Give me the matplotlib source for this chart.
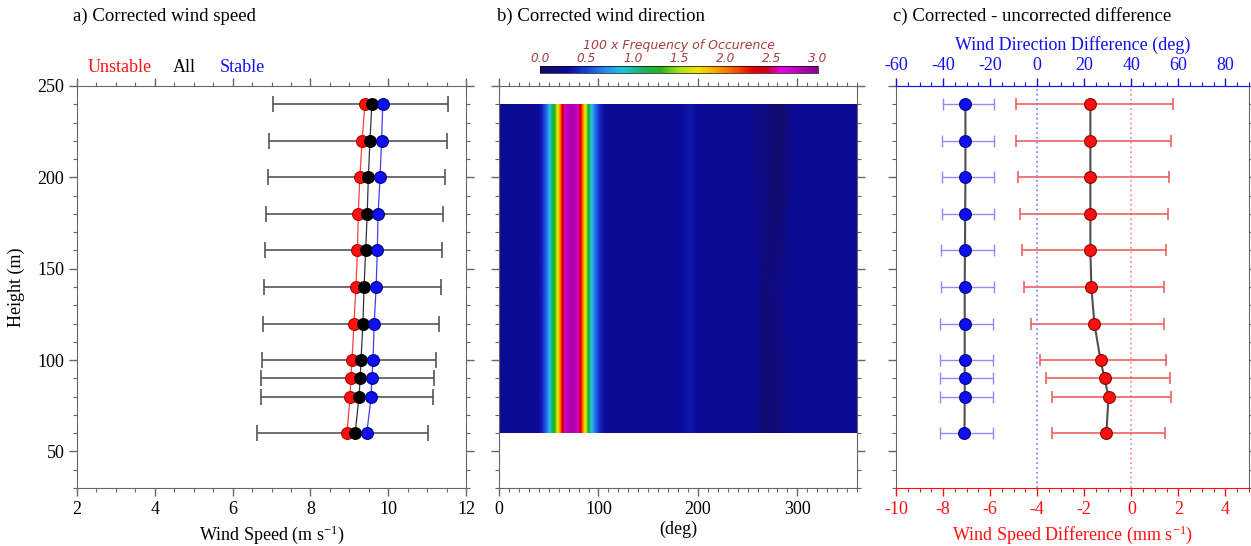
"""
Corrected wind speed / direction profiles and corrected - uncorrected differences.
"""
import numpy as np
import matplotlib
matplotlib.use('Agg')
import matplotlib.pyplot as plt
from matplotlib.colors import LinearSegmentedColormap
from matplotlib.ticker import MultipleLocator, NullFormatter

# ---- data ----
HEIGHTS = [60, 80, 90, 100, 120, 140, 160, 180, 200, 220, 240]  # m

# a) corrected wind speed (m/s)
UNSTABLE = [8.94, 9.02, 9.04, 9.07, 9.12, 9.17, 9.21, 9.23, 9.27, 9.33, 9.40]
ALL = [9.15, 9.25, 9.28, 9.30, 9.35, 9.38, 9.42, 9.46, 9.49, 9.53, 9.58]
STABLE = [9.45, 9.56, 9.58, 9.61, 9.64, 9.69, 9.72, 9.74, 9.79, 9.83, 9.86]
SPEED_LO = [6.63, 6.74, 6.74, 6.76, 6.78, 6.81, 6.83, 6.86, 6.91, 6.94, 7.04]
SPEED_HI = [11.02, 11.15, 11.18, 11.23, 11.31, 11.36, 11.38, 11.42, 11.46, 11.50, 11.54]

# b) frequency of occurrence (x100), 5 deg direction bins
DIR_EDGES = np.arange(0, 361, 5)
FREQ_PROFILE = [
    0.28, 0.28, 0.28, 0.28, 0.28, 0.28, 0.28, 0.28,   # 0-40
    0.36, 0.60, 1.00, 1.45, 2.15, 2.75, 2.85, 2.80,   # 40-80
    2.30, 1.55, 0.95, 0.60, 0.38, 0.30, 0.28, 0.28,   # 80-120
    0.28, 0.28, 0.28, 0.28, 0.28, 0.28, 0.28, 0.28,   # 120-160
    0.28, 0.28, 0.28, 0.28, 0.30, 0.33, 0.37, 0.32,   # 160-200
    0.28, 0.28, 0.28, 0.28, 0.28, 0.28, 0.28, 0.28,   # 200-240
    0.28, 0.28, 0.26, 0.24, 0.22, 0.18, 0.15, 0.12,   # 240-280
    0.12, 0.16, 0.22, 0.26, 0.28, 0.28, 0.28, 0.27,   # 280-320
    0.26, 0.27, 0.26, 0.28, 0.28, 0.28, 0.28, 0.28,   # 320-360
]
FREQ_LEVELS = [60, 80, 100, 120, 140, 160, 180, 200, 220, 240]
STREAK_BINS = slice(50, 60)  # 250-300 deg
STREAKS = [
    [0.28, 0.24, 0.16, 0.06, 0.14, 0.10, 0.14, 0.22, 0.25, 0.27],
    [0.28, 0.25, 0.18, 0.06, 0.12, 0.10, 0.16, 0.22, 0.25, 0.27],
    [0.28, 0.26, 0.18, 0.06, 0.12, 0.12, 0.16, 0.22, 0.25, 0.27],
    [0.28, 0.27, 0.18, 0.07, 0.14, 0.13, 0.18, 0.24, 0.26, 0.27],
    [0.28, 0.27, 0.18, 0.09, 0.14, 0.16, 0.18, 0.22, 0.26, 0.27],
    [0.28, 0.27, 0.20, 0.12, 0.12, 0.13, 0.14, 0.20, 0.25, 0.27],
    [0.28, 0.26, 0.22, 0.14, 0.10, 0.08, 0.10, 0.18, 0.24, 0.27],
    [0.27, 0.20, 0.22, 0.16, 0.12, 0.06, 0.07, 0.15, 0.22, 0.27],
    [0.26, 0.18, 0.20, 0.16, 0.13, 0.06, 0.05, 0.12, 0.20, 0.26],
    [0.26, 0.18, 0.20, 0.16, 0.13, 0.08, 0.05, 0.08, 0.20, 0.26],
]

# c) corrected - uncorrected differences
DSPD = [-1.06, -0.97, -1.14, -1.31, -1.57, -1.70, -1.74, -1.74, -1.74, -1.74, -1.74]
DSPD_LO = [-3.35, -3.39, -3.64, -3.90, -4.28, -4.58, -4.66, -4.75, -4.83, -4.88, -4.92]
DSPD_HI = [1.44, 1.70, 1.65, 1.48, 1.40, 1.40, 1.48, 1.57, 1.61, 1.69, 1.78]
DDIR = [-30.9, -30.8, -30.8, -30.8, -30.8, -30.8, -30.7, -30.6, -30.5, -30.5, -30.5]
DDIR_LO = [-41.3, -41.3, -41.3, -41.3, -41.2, -41.0, -40.8, -40.6, -40.4, -40.3, -40.2]
DDIR_HI = [-18.6, -18.6, -18.6, -18.6, -18.6, -18.5, -18.5, -18.4, -18.3, -18.2, -18.2]

CBAR_TICKS = [0.0, 0.5, 1.0, 1.5, 2.0, 2.5, 3.0]

# ---- style ----
plt.rcParams['font.family'] = 'serif'
plt.rcParams['font.serif'] = ['Liberation Serif', 'DejaVu Serif']
plt.rcParams['mathtext.default'] = 'regular'
plt.rcParams['axes.unicode_minus'] = False
plt.rcParams['font.size'] = 13
FRAME = '#666666'
RED = '#ff1010'
BLUE = '#1010ee'
CBAR_TEXT = '#a83c3c'

# colormap approximating NCL BlAqGrYeOrReVi
anchors = [
    (0.00, (0.08, 0.05, 0.40)),
    (0.30, (0.04, 0.04, 0.60)),
    (0.50, (0.10, 0.25, 0.85)),
    (0.75, (0.15, 0.60, 0.95)),
    (0.90, (0.10, 0.78, 0.85)),
    (1.10, (0.10, 0.70, 0.40)),
    (1.30, (0.15, 0.70, 0.10)),
    (1.50, (0.65, 0.88, 0.10)),
    (1.70, (0.95, 0.90, 0.00)),
    (1.90, (0.98, 0.65, 0.00)),
    (2.10, (0.97, 0.35, 0.00)),
    (2.30, (0.90, 0.00, 0.00)),
    (2.45, (0.80, 0.00, 0.10)),
    (2.60, (0.90, 0.00, 0.90)),
    (3.00, (0.55, 0.00, 0.55)),
]
cmap = LinearSegmentedColormap.from_list(
    'blaqgryeorrevi', [(v / 3.0, c) for v, c in anchors]
)


def style_axes(ax, xmajor, xminor, label_y=True):
    ax.set_ylim(30, 250)
    ax.yaxis.set_major_locator(MultipleLocator(50))
    ax.yaxis.set_minor_locator(MultipleLocator(10))
    ax.xaxis.set_major_locator(MultipleLocator(xmajor))
    ax.xaxis.set_minor_locator(MultipleLocator(xminor))
    ax.tick_params(which='both', direction='out', top=True, right=True,
                   color=FRAME, labelsize=13, pad=3)
    ax.tick_params(which='major', length=6, width=1)
    ax.tick_params(which='minor', length=3, width=0.8)
    if not label_y:
        ax.yaxis.set_major_formatter(NullFormatter())
    for s in ax.spines.values():
        s.set_color(FRAME)


fig = plt.figure(figsize=(12.51, 5.46), dpi=100)
H = 546.0
W = 1251.0
bottom = (H - 488) / H
height = 402 / H

# ---- a) corrected wind speed ----
ax_a = fig.add_axes([77 / W, bottom, 389 / W, height])
style_axes(ax_a, 2, 0.5)
ax_a.set_xlim(2, 12)
all_arr = np.array(ALL)
ax_a.errorbar(ALL, HEIGHTS,
              xerr=[all_arr - np.array(SPEED_LO), np.array(SPEED_HI) - all_arr],
              fmt='none', ecolor='#555555', elinewidth=1.2, capsize=6,
              capthick=1.2, zorder=2)
for vals, col, edge in [(UNSTABLE, RED, '#aa0000'),
                        (ALL, 'black', 'black'),
                        (STABLE, BLUE, '#000088')]:
    ax_a.plot(vals, HEIGHTS, '-', color=col, lw=0.9, alpha=0.8, zorder=3)
    ax_a.plot(vals, HEIGHTS, 'o', color=col, mec=edge, mew=0.8, ms=8.5,
              zorder=4, ls='none')
ax_a.set_xlabel(r'Wind Speed (m s$^{-1}$)', labelpad=4)
ax_a.set_ylabel('Height (m)', labelpad=9)
for x, txt, col in [(0.028, 'Unstable', RED), (0.247, 'All', 'black'),
                    (0.368, 'Stable', BLUE)]:
    ax_a.text(x, 1.045, txt, color=col, transform=ax_a.transAxes,
              ha='left', va='center', fontsize=13)

# ---- b) corrected wind direction ----
ax_b = fig.add_axes([499 / W, bottom, 358 / W, height])
style_axes(ax_b, 100, 10, label_y=False)
freq = np.tile(np.array(FREQ_PROFILE), (len(FREQ_LEVELS), 1))
freq[:, STREAK_BINS] = np.array(STREAKS)
im = ax_b.imshow(freq, origin='lower', aspect='auto', cmap=cmap,
                 vmin=0, vmax=3, interpolation='bilinear',
                 extent=[DIR_EDGES[0], DIR_EDGES[-1],
                         FREQ_LEVELS[0], FREQ_LEVELS[-1]])
ax_b.set_xlim(0, 360)
ax_b.set_ylim(30, 250)
ax_b.set_xlabel('(deg)', labelpad=2)

cax = fig.add_axes([540 / W, (H - 73) / H, 278 / W, 7 / H])
cb = fig.colorbar(im, cax=cax, orientation='horizontal', ticks=CBAR_TICKS)
cb.outline.set_linewidth(0.5)
cax.xaxis.set_ticks_position('top')
cax.tick_params(length=0, pad=1, labelsize=8.7, labelcolor=CBAR_TEXT)
for lab in cax.get_xticklabels():
    lab.set_fontstyle('italic')
    lab.set_fontfamily('DejaVu Sans')
fig.text(679 / W, 1 - 46 / H, '100 x Frequency of Occurence', fontsize=9,
         color=CBAR_TEXT, style='italic', family='DejaVu Sans',
         ha='center', va='center')

# ---- c) corrected - uncorrected difference ----
ax_c = fig.add_axes([896 / W, bottom, 353 / W, height])
style_axes(ax_c, 2, 0.5, label_y=False)
ax_c.set_xlim(-10, 5)
ax_c.tick_params(axis='x', which='both', top=False, colors=RED,
                 labelcolor=RED)
ax_c.spines['bottom'].set_color(RED)
ax_c.set_xlabel(r'Wind Speed Difference (mm s$^{-1}$)', color=RED,
                labelpad=4)

ax_d = ax_c.twiny()
ax_d.set_xlim(-60, 90)
ax_d.xaxis.set_major_locator(MultipleLocator(20))
ax_d.xaxis.set_minor_locator(MultipleLocator(5))
ax_d.tick_params(axis='x', which='both', direction='out', colors=BLUE,
                 labelcolor=BLUE, labelsize=13, pad=3)
ax_d.tick_params(which='major', length=6, width=1)
ax_d.tick_params(which='minor', length=3, width=0.8)
ax_d.spines['top'].set_color(BLUE)
for s in ['left', 'right', 'bottom']:
    ax_d.spines[s].set_visible(False)
ax_d.set_xlabel('Wind Direction Difference (deg)', color=BLUE, labelpad=5)

ax_d.axvline(0, color='#8888ff', ls=':', lw=1.3, zorder=1)
ax_c.axvline(0, color='#ff9090', ls=':', lw=1.3, zorder=1)

dspd = np.array(DSPD)
ax_c.errorbar(DSPD, HEIGHTS,
              xerr=[dspd - np.array(DSPD_LO), np.array(DSPD_HI) - dspd],
              fmt='none', ecolor='#f06060', elinewidth=1.2, capsize=4,
              capthick=1.2, zorder=2)
ax_c.plot(DSPD, HEIGHTS, '-', color='#505050', lw=1.5, zorder=3)
ax_c.plot(DSPD, HEIGHTS, 'o', color=RED, mec='#880000', mew=0.8, ms=8.5,
          ls='none', zorder=4)

ddir = np.array(DDIR)
ax_d.errorbar(DDIR, HEIGHTS,
              xerr=[ddir - np.array(DDIR_LO), np.array(DDIR_HI) - ddir],
              fmt='none', ecolor='#8c8cff', elinewidth=1.0, capsize=4,
              capthick=1.0, zorder=2)
ax_d.plot(DDIR, HEIGHTS, '-', color='#505050', lw=1.5, zorder=3)
ax_d.plot(DDIR, HEIGHTS, 'o', color=BLUE, mec='#000088', mew=0.8, ms=8.5,
          ls='none', zorder=4)
ax_d.set_ylim(30, 250)

# ---- panel titles ----
fig.text(73 / W, 1 - 16 / H, 'a) Corrected wind speed', ha='left',
         va='center', fontsize=13.5)
fig.text(497 / W, 1 - 16 / H, 'b) Corrected wind direction', ha='left',
         va='center', fontsize=13.5)
fig.text(893 / W, 1 - 16 / H, 'c) Corrected - uncorrected difference',
         ha='left', va='center', fontsize=13.5)

fig.savefig('out.png', dpi=100)
plt.close(fig)
